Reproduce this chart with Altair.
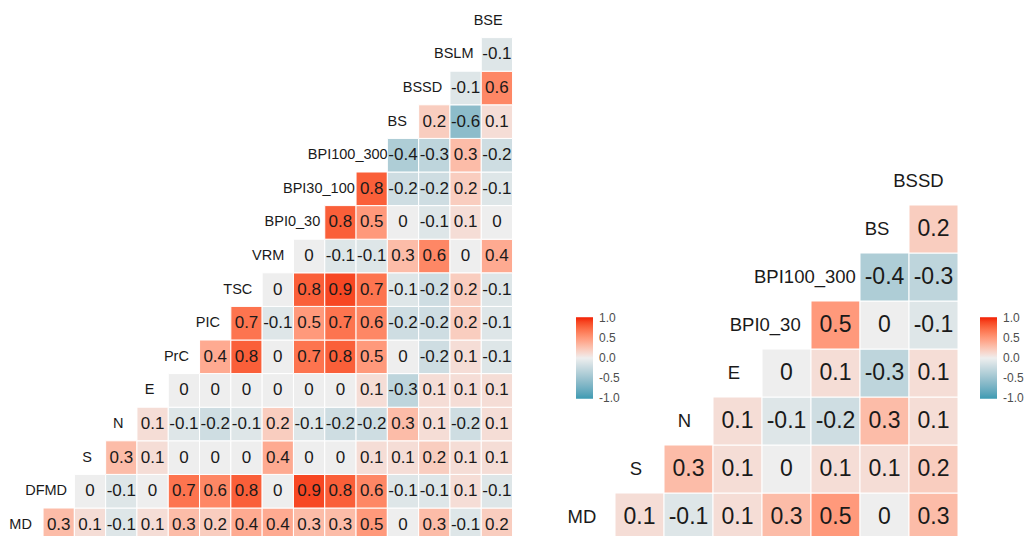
import altair as alt
import pandas as pd

# Full set of predictors (bottom row to top row of the triangle)
left_vars = ["MD", "DFMD", "S", "N", "E", "PrC", "PIC", "TSC", "VRM",
             "BPI0_30", "BPI30_100", "BPI100_300", "BS", "BSSD", "BSLM", "BSE"]
# Correlations of each variable with the variables listed after it
left_rows = [
    [0.3, 0.1, -0.1, 0.1, 0.3, 0.2, 0.4, 0.4, 0.3, 0.3, 0.5, 0, 0.3, -0.1, 0.2],
    [0, -0.1, 0, 0.7, 0.6, 0.8, 0, 0.9, 0.8, 0.6, -0.1, -0.1, 0.1, -0.1],
    [0.3, 0.1, 0, 0, 0, 0.4, 0, 0, 0.1, 0.1, 0.2, 0.1, 0.1],
    [0.1, -0.1, -0.2, -0.1, 0.2, -0.1, -0.2, -0.2, 0.3, 0.1, -0.2, 0.1],
    [0, 0, 0, 0, 0, 0, 0.1, -0.3, 0.1, 0.1, 0.1],
    [0.4, 0.8, 0, 0.7, 0.8, 0.5, 0, -0.2, 0.1, -0.1],
    [0.7, -0.1, 0.5, 0.7, 0.6, -0.2, -0.2, 0.2, -0.1],
    [0, 0.8, 0.9, 0.7, -0.1, -0.2, 0.2, -0.1],
    [0, -0.1, -0.1, 0.3, 0.6, 0, 0.4],
    [0.8, 0.5, 0, -0.1, 0.1, 0],
    [0.8, -0.2, -0.2, 0.2, -0.1],
    [-0.4, -0.3, 0.3, -0.2],
    [0.2, -0.6, 0.1],
    [-0.1, 0.6],
    [-0.1],
]

# Reduced set of predictors
right_vars = ["MD", "S", "N", "E", "BPI0_30", "BPI100_300", "BS", "BSSD"]
right_rows = [
    [0.1, -0.1, 0.1, 0.3, 0.5, 0, 0.3],
    [0.3, 0.1, 0, 0.1, 0.1, 0.2],
    [0.1, -0.1, -0.2, 0.3, 0.1],
    [0, 0.1, -0.3, 0.1],
    [0.5, 0, -0.1],
    [-0.4, -0.3],
    [0.2],
]

LOW, MID, HIGH = "#3B9AB2", "#EEEEEE", "#F21A00"
FONT = "Liberation Sans"
TEXT_COLOR = "#1a1a1a"
W, H = 1033, 536
HJUST = 0.8  # fraction of a name's width placed left of the diagonal
LIM = 1.02   # colour scale limit, a hair past +/-1 so the end labels stay centred
BAR = 80     # legend pixels between -1 and 1

# Approximate Arial/Liberation Sans advance widths (em units)
CHAR_W = {"A": .667, "B": .667, "C": .722, "D": .722, "E": .667, "F": .611,
          "I": .278, "L": .556, "M": .833, "N": .722, "P": .667, "R": .722,
          "S": .667, "T": .611, "V": .667, "r": .333, "_": .556}


def text_width(s, size):
    return sum(CHAR_W.get(c, .556) for c in s) * size


def fmt(v):
    return "0" if v == 0 else f"{v:g}"


def panel(vars_, rows, cell_w, cell_h, x_first, y_first, value_size,
          name_size, legend_x, legend_y):
    """One triangular correlation panel.

    x_first / y_first: pixel centre of the first column / bottom row.
    """
    cells = []
    for i, row in enumerate(rows, start=1):
        for k, v in enumerate(row):
            j = i + 1 + k
            cells.append({"col": j, "row": i, "r": v, "lab": fmt(v),
                          "x0": j - 0.5, "x1": j + 0.5,
                          "y0": i - 0.5, "y1": i + 0.5})
    cells = pd.DataFrame(cells)

    # variable names sit on the diagonal, mostly to the left of it
    names = pd.DataFrame({
        "name": vars_,
        "idx": range(1, len(vars_) + 1),
    })
    names["xl"] = [i - (HJUST - 0.5) * text_width(n, name_size) / cell_w
                   for i, n in zip(names["idx"], names["name"])]

    xs = alt.Scale(domain=[1 - x_first / cell_w, 1 + (W - x_first) / cell_w],
                   nice=False, zero=False)
    ys = alt.Scale(domain=[1 - (H - y_first) / cell_h, 1 + y_first / cell_h],
                   nice=False, zero=False)

    tiles = alt.Chart(cells).mark_rect(stroke="white", strokeWidth=1,
                                       clip=True).encode(
        x=alt.X("x0:Q", scale=xs, axis=None),
        x2="x1:Q",
        y=alt.Y("y0:Q", scale=ys, axis=None),
        y2="y1:Q",
        color=alt.Color(
            "r:Q",
            scale=alt.Scale(domain=[-LIM, 0, LIM], range=[LOW, MID, HIGH]),
            legend=alt.Legend(
                orient="none", legendX=legend_x,
                legendY=legend_y - (LIM - 1) * BAR / 2,
                title=None, direction="vertical",
                gradientLength=LIM * BAR, gradientThickness=17,
                gradientStrokeWidth=0,
                values=[1, 0.5, 0, -0.5, -1],
                labelExpr="datum.value < 0 ? '-' + format(-datum.value, '.1f') : format(datum.value, '.1f')",
                labelFont=FONT, labelFontSize=12, labelColor="#4d4d4d",
                labelBaseline="middle",
                labelOverlap=False, labelOffset=6, padding=0,
            ),
        ),
    )

    values = alt.Chart(cells).mark_text(
        font=FONT, fontSize=value_size, color=TEXT_COLOR, baseline="middle"
    ).encode(
        x=alt.X("col:Q", scale=xs, axis=None),
        y=alt.Y("row:Q", scale=ys, axis=None),
        text="lab:N",
    )

    labels = alt.Chart(names).mark_text(
        font=FONT, fontSize=name_size, color=TEXT_COLOR, baseline="middle"
    ).encode(
        x=alt.X("xl:Q", scale=xs, axis=None),
        y=alt.Y("idx:Q", scale=ys, axis=None),
        text="name:N",
    )
    return alt.layer(tiles, values, labels)


left = panel(left_vars, left_rows, cell_w=31.3, cell_h=33.6,
             x_first=27.4, y_first=524.8, value_size=17, name_size=14.5,
             legend_x=576, legend_y=318)
right = panel(right_vars, right_rows, cell_w=49, cell_h=48,
              x_first=590.5, y_first=517, value_size=23, name_size=18.5,
              legend_x=980, legend_y=318)

chart = alt.layer(left, right).resolve_scale(
    x="independent", y="independent", color="independent"
).properties(
    width=W, height=H, padding=0,
    autosize=alt.AutoSizeParams(type="none"),
    background="white",
).configure_view(stroke=None)

chart.save("out.html", embed_options={"renderer": "svg", "actions": False})
